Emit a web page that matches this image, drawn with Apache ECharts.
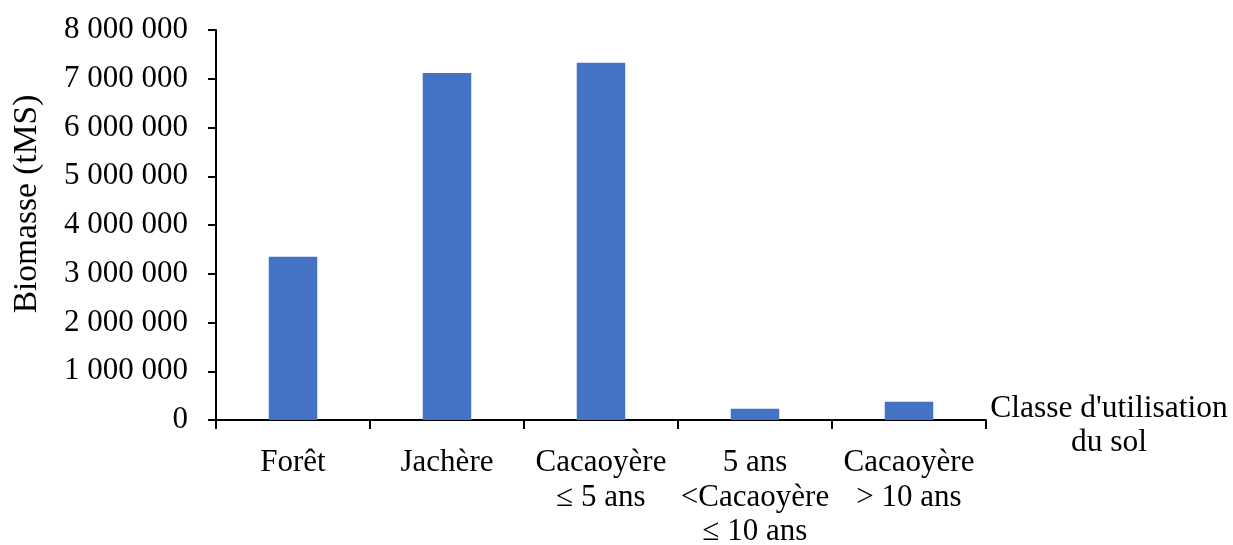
<!DOCTYPE html>
<html>
<head>
<meta charset="utf-8">
<script src="https://cdn.jsdelivr.net/npm/echarts@6/dist/echarts.min.js"></script>
<style>
  html, body { margin: 0; padding: 0; background: #ffffff; }
  #chart { width: 1233px; height: 545px; }
</style>
</head>
<body>
<div id="chart"></div>
<script>
// Land-use classes and their above-ground biomass (tonnes of dry matter)
const categories = [
  'Forêt',
  'Jachère',
  'Cacaoyère\n≤ 5 ans',
  '5 ans\n<Cacaoyère\n≤ 10 ans',
  'Cacaoyère\n> 10 ans'
];
const biomass = [3350000, 7120000, 7330000, 230000, 375000];

const yTitle = 'Biomasse (tMS)';
const xTitleLines = ["Classe d'utilisation", 'du sol'];

const FONT = '"Liberation Serif", "Times New Roman", serif';

// 1000000 -> "1 000 000"
function spaced(v) {
  return String(Math.round(v)).replace(/\B(?=(\d{3})+(?!\d))/g, ' ');
}

const chart = echarts.init(document.getElementById('chart'), null, { renderer: 'canvas' });

chart.setOption({
  animation: false,
  backgroundColor: '#ffffff',
  grid: {
    left: 216, right: 247, top: 30, bottom: 125,
    containLabel: false, outerBoundsMode: 'none'
  },
  xAxis: {
    type: 'category',
    data: categories,
    name: '{l1|' + xTitleLines[0] + '}\n{l2|' + xTitleLines[1] + '}',
    nameLocation: 'end',
    nameGap: 123,
    nameTextStyle: {
      fontFamily: FONT, fontSize: 31.5, color: '#000',
      align: 'center', verticalAlign: 'middle',
      rich: {
        l1: { fontFamily: FONT, fontSize: 31.5, color: '#000', lineHeight: 46 },
        l2: { fontFamily: FONT, fontSize: 31.5, color: '#000', lineHeight: 22 }
      }
    },
    axisLine: { lineStyle: { color: '#000', width: 2 } },
    axisTick: { show: true, length: 9, lineStyle: { color: '#000', width: 2 } },
    axisLabel: {
      interval: 0, margin: 26,
      fontFamily: FONT, fontSize: 31, color: '#000', lineHeight: 34.5
    },
    splitLine: { show: false }
  },
  yAxis: {
    type: 'value',
    min: 0, max: 8000000, interval: 1000000,
    name: yTitle,
    nameLocation: 'middle',
    nameGap: 172,
    nameTextStyle: {
      fontFamily: FONT, fontSize: 33.5, color: '#000',
      padding: [0, 0, 0, 42]
    },
    axisLine: { show: true, lineStyle: { color: '#000', width: 2 } },
    axisTick: { show: true, length: 8, lineStyle: { color: '#000', width: 2 } },
    axisLabel: {
      margin: 28, formatter: spaced,
      fontFamily: FONT, fontSize: 31, color: '#000'
    },
    splitLine: { show: false }
  },
  series: [{
    type: 'bar',
    data: biomass,
    barWidth: '31.5%',
    itemStyle: { color: '#4472C4' }
  }]
});
</script>
</body>
</html>
